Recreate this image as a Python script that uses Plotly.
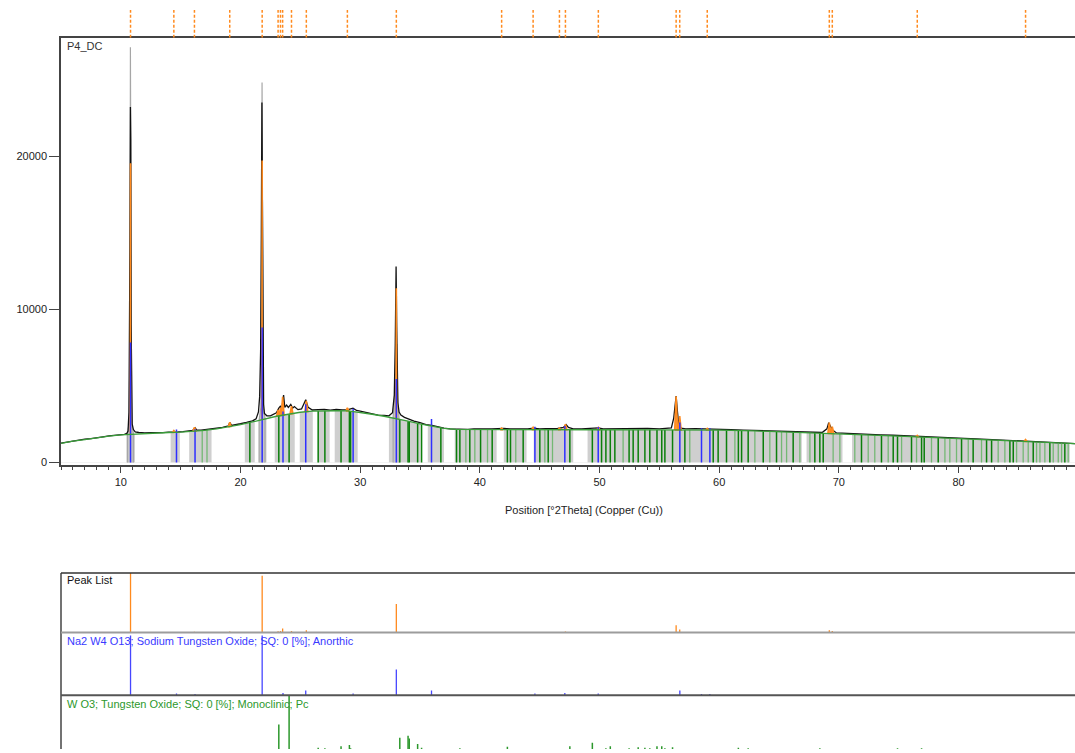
import numpy as np
import plotly.graph_objects as go

# ---------------- data ----------------
# fitted background (2Theta, counts)
bg_2theta = [5, 6, 7, 8, 9, 10, 12, 14, 15, 16, 17, 18, 19, 20, 21, 22, 23, 24, 25, 26, 27, 28,
             29, 30, 31, 32, 33, 34, 35, 36, 37, 38, 40, 45, 50, 55, 60, 63, 66, 70, 75, 80, 85, 89.73]
bg_counts = [1250, 1400, 1500, 1620, 1720, 1800, 1900, 1960, 1990, 2040, 2100, 2200, 2320, 2480,
             2650, 2850, 3020, 3150, 3280, 3360, 3380, 3380, 3370, 3280, 3150, 3020, 2880, 2700,
             2520, 2350, 2230, 2160, 2150, 2150, 2140, 2130, 2120, 2060, 1980, 1880, 1720, 1560,
             1400, 1230]

# measured scan P4_DC
meas_2theta = [5.0, 5.5, 6.0, 6.5, 7.0, 7.5, 8.0, 8.5, 9.0, 9.5, 10.0, 10.3, 10.5, 10.6, 10.68,
               10.72, 10.76, 10.80, 10.83, 10.86, 10.90, 10.95, 11.05, 11.2, 11.5, 12.0, 12.5,
               13.0, 13.5, 14.0, 14.4, 14.8, 15.2, 15.6, 16.0, 16.2, 16.35, 16.7, 17.0, 17.5,
               18.0, 18.5, 19.0, 19.1, 19.25, 19.6, 20.0, 20.5, 21.0, 21.3, 21.5, 21.6, 21.68,
               21.74, 21.79, 21.83, 21.88, 21.93, 22.0, 22.2, 22.5, 22.8, 23.0, 23.2, 23.35,
               23.45, 23.6, 23.7, 23.85, 24.0, 24.2, 24.35, 24.5, 24.8, 25.1, 25.45, 25.65, 26.0,
               26.5, 27.0, 27.5, 28.0, 28.5, 29.0, 29.4, 29.7, 30.0, 30.5, 31.0, 31.5, 32.0,
               32.4, 32.7, 32.85, 32.93, 33.0, 33.05, 33.1, 33.15, 33.25, 33.4, 33.7, 34.0, 34.5,
               35.0, 35.5, 36.0, 36.5, 37.0, 37.5, 38.0, 38.5, 39.0, 39.5, 40.0, 40.5, 41.0,
               41.5, 42.0, 42.5, 43.0, 43.5, 44.0, 44.5, 45.0, 45.5, 46.0, 46.5, 47.0, 47.2,
               47.4, 47.8, 48.5, 49.0, 49.5, 49.9, 50.3, 51.0, 52.0, 53.0, 54.0, 55.0, 55.5,
               56.0, 56.2, 56.3, 56.4, 56.5, 56.6, 56.8, 57.2, 58.0, 58.5, 59.0, 59.5, 60.0,
               61.0, 62.0, 63.0, 64.0, 65.0, 66.0, 67.0, 68.0, 68.6, 69.0, 69.15, 69.3, 69.5,
               69.8, 70.5, 71.5, 72.5, 73.5, 74.5, 75.5, 76.5, 77.5, 78.5, 79.5, 80.5, 81.5,
               82.5, 83.5, 84.5, 85.5, 86.5, 87.5, 88.5, 89.73]
meas_counts = [1260, 1330, 1420, 1480, 1530, 1560, 1640, 1680, 1740, 1770, 1820, 1840, 1900, 2050,
               3300, 6800, 14000, 23200, 21000, 9000, 4000, 2500, 2150, 2000, 1960, 1930, 1950,
               1930, 1950, 1980, 2010, 2000, 2020, 2050, 2100, 2270, 2120, 2110, 2140, 2170,
               2240, 2290, 2400, 2620, 2420, 2450, 2530, 2620, 2720, 2850, 3300, 4300, 7300,
               15000, 23500, 17000, 7000, 3800, 3200, 3050, 3050, 3150, 3250, 3550, 3700,
               3450, 4400, 3600, 3750, 3600, 3790, 3550, 3650, 3450, 3500, 4100, 3600, 3430,
               3440, 3470, 3420, 3460, 3430, 3450, 3550, 3400, 3360, 3260, 3190, 3100, 3080,
               3050, 3250, 4400, 7700, 12800, 9000, 5800, 3900, 3300, 3100, 2950, 2850, 2700,
               2600, 2480, 2420, 2330, 2250, 2200, 2180, 2190, 2170, 2200, 2180, 2200, 2190,
               2210, 2230, 2200, 2190, 2210, 2200, 2250, 2190, 2210, 2200, 2220, 2300, 2480,
               2290, 2200, 2190, 2210, 2200, 2260, 2200, 2210, 2190, 2210, 2230, 2200, 2220,
               2260, 2900, 3700, 4330, 3400, 2600, 2250, 2200, 2210, 2200, 2230, 2190, 2170,
               2150, 2120, 2090, 2060, 2030, 2000, 1980, 1950, 1960, 2200, 2600, 2350, 2100,
               1930, 1900, 1870, 1850, 1810, 1780, 1740, 1730, 1680, 1640, 1620, 1580, 1550,
               1510, 1470, 1440, 1420, 1390, 1340, 1300, 1240]

# calculated profile around the strong reflections (segments split by None)
calc_2theta = [10.55, 10.7, 10.77, 10.8, 10.83, 10.9, 11.05, None,
               21.55, 21.7, 21.77, 21.8, 21.83, 21.9, 22.05, None,
               32.75, 32.88, 32.95, 33.0, 33.06, 33.12, 33.25]
calc_counts = [1830, 2600, 9000, 27100, 9000, 2600, 1900, None,
               2720, 3600, 9000, 24800, 9000, 3600, 2900, None,
               2950, 4200, 7700, 7700, 7700, 4200, 2880]

# ranges without a shaded peak window (2Theta start, end)
gap_start = [5.0, 11.18, 14.93, 17.58, 21.19, 22.17, 24.53, 26.04, 27.45, 29.79, 35.05, 37.0,
             41.4, 43.9, 47.8, 66.9, 70.3, 89.3]
gap_end = [10.48, 14.16, 15.71, 20.36, 21.6, 22.86, 24.95, 26.45, 27.87, 32.4, 35.65, 37.9,
           42.0, 44.5, 49.0, 67.3, 71.1, 89.8]

# peak list: position and net height above background (counts)
peak_pos = [10.81, 14.43, 16.15, 19.10, 21.81, 23.14, 23.34, 23.52, 24.26, 25.50, 28.93, 33.02,
            41.82, 44.45, 46.65, 47.15, 49.90, 56.40, 56.70, 59.00, 69.20, 69.45, 76.55, 85.60]
peak_net = [17700, 120, 250, 300, 16900, 400, 500, 1200, 500, 700, 200, 8500,
            100, 150, 100, 350, 150, 2200, 900, 100, 700, 450, 100, 120]

# Na2 W4 O13 reference pattern (position, relative intensity %)
na2_pos = [10.81, 14.65, 16.2, 21.81, 23.55, 25.45, 29.41, 33.02, 35.96, 44.6, 47.1, 49.89,
           56.71, 58.52, 59.22]
na2_rel = [100, 3, 2, 100, 4, 8, 3, 43, 8, 3, 4, 3, 8, 2, 2]

# W O3 reference pattern (position, relative intensity %)
wo3_pos = [16.8, 17.2, 20.78, 23.2, 24.06, 26.49, 27.05, 28.4, 29.1, 29.2, 33.31, 34.0, 34.1,
           34.8, 35.13, 36.74, 38.05, 38.33, 38.83, 39.16, 39.58, 40.06, 40.64, 41.03, 42.3,
           42.56, 43.0, 43.62, 45.01, 45.43, 45.71, 46.07, 47.52, 49.4, 50.17, 50.53, 50.9,
           51.28, 51.97, 52.47, 52.81, 53.23, 53.79, 54.2, 54.8, 55.2, 55.46, 56.1, 57.13,
           57.54, 59.5, 59.91, 60.61, 61.31, 61.6, 61.87, 62.42, 62.98, 63.68, 64.23, 64.79,
           65.21, 65.63, 66.18, 66.74, 67.58, 67.99, 68.41, 68.69, 69.52, 70.08, 71.33, 71.89,
           72.45, 73.0, 73.56, 74.12, 74.54, 74.9, 75.24, 76.07, 76.49, 76.91, 77.13, 77.74,
           78.3, 78.86, 79.27, 79.83, 80.25, 80.81, 81.22, 81.92, 82.34, 82.76, 83.31, 83.87,
           84.29, 84.57, 84.85, 85.4, 85.82, 86.24, 86.52, 86.8, 87.21, 87.63, 87.91, 88.33,
           88.61, 88.88, 89.16]
wo3_rel = [2, 2, 3, 47, 100, 5, 4, 8, 10, 4, 23, 27, 22, 12, 5, 3, 3, 4, 2, 3, 2, 3, 2, 3, 7,
           3, 2, 3, 3, 2, 3, 2, 8, 14, 3, 4, 8, 3, 2, 4, 3, 6, 5, 4, 8, 8, 4, 6, 3, 2, 3, 3,
           3, 2, 5, 3, 4, 2, 3, 2, 3, 2, 2, 3, 2, 2, 3, 4, 3, 2, 2, 2, 3, 2, 2, 3, 2, 3, 4, 2,
           3, 2, 4, 3, 2, 3, 2, 2, 2, 3, 2, 3, 2, 3, 3, 2, 2, 3, 3, 2, 2, 2, 3, 2, 2, 2, 3, 2,
           2, 2, 3, 2]

# ---------------- styling ----------------
FONT = "Liberation Sans, Arial, sans-serif"
ORANGE = "#ff8a1e"
GRAY_BAND = "#cfcfcf"
X_RANGE = [5, 89.73]
H, W = 753, 1075
LEFT = 61

# pixel rows of the panel frames
ROW_TOP_STRIP = 10
ROW_MAIN_TOP = 38
ROW_MAIN_BOTTOM = 467
ROW_PL_TOP = 576
ROW_PL_BOTTOM = 636
ROW_NA_BOTTOM = 699


def py(px):
    """paper y coordinate for a pixel row"""
    return 1 - px / H


def bg_at(x):
    return np.interp(x, bg_2theta, bg_counts)


def sticks(pos, base, top):
    xs, ys = [], []
    for p, b, t in zip(pos, base, top):
        xs += [p, p, None]
        ys += [b, t, None]
    return xs, ys


fig = go.Figure()

# shaded peak windows under the background
fig.add_trace(go.Scatter(x=bg_2theta, y=bg_counts, mode="lines", fill="tozeroy",
                         fillcolor=GRAY_BAND, line=dict(width=0), hoverinfo="skip"))
gx, gy = [], []
for a, b in zip(gap_start, gap_end):
    gx += [a, a, b, b, a, None]
    gy += [0, 4200, 4200, 0, 0, None]
fig.add_trace(go.Scatter(x=gx, y=gy, mode="lines", fill="toself", fillcolor="white",
                         line=dict(width=0), hoverinfo="skip"))

# calculated profile
cx, cy, seg = [], [], []
for xv, yv in list(zip(calc_2theta, calc_counts)) + [(None, None)]:
    if xv is None:
        if seg:
            cx += [seg[0][0]] + [s[0] for s in seg] + [seg[-1][0], None]
            cy += [0] + [s[1] for s in seg] + [0, None]
        seg = []
    else:
        seg.append((xv, yv))
fig.add_trace(go.Scatter(x=cx, y=cy, mode="lines", fill="toself", fillcolor="#c4c4c4",
                         line=dict(color="#a6a6a6", width=1.2), hoverinfo="skip"))

# measured scan
fig.add_trace(go.Scatter(x=meas_2theta, y=meas_counts, mode="lines",
                         line=dict(color="#111111", width=1.3), hoverinfo="skip"))

# peak list profiles
ox, oy = [], []
for p, n in zip(peak_pos, peak_net):
    w = 0.015 if n > 5000 else 0.12
    ox += [p - w, p, p + w, p - w, None]
    oy += [bg_at(p - w), bg_at(p) + n, bg_at(p + w), bg_at(p - w), None]
fig.add_trace(go.Scatter(x=ox, y=oy, mode="lines", fill="toself", fillcolor="#ff9d3c",
                         line=dict(color=ORANGE, width=1.6), hoverinfo="skip"))

# W O3 sticks (to background)
weak = [i for i, r in enumerate(wo3_rel) if r < 3]
strong = [i for i, r in enumerate(wo3_rel) if r >= 3]
for idx, col, lw in [(weak, "#74b874", 1.3), (strong, "#0b7f0b", 1.5)]:
    ps = [wo3_pos[i] for i in idx]
    sx, sy = sticks(ps, [0] * len(ps), [bg_at(p) for p in ps])
    fig.add_trace(go.Scatter(x=sx, y=sy, mode="lines", line=dict(color=col, width=lw),
                             hoverinfo="skip"))

# Na2 W4 O13 sticks
sx, sy = sticks(na2_pos, [0] * len(na2_pos),
                [bg_at(p) + r * 60 for p, r in zip(na2_pos, na2_rel)])
fig.add_trace(go.Scatter(x=sx, y=sy, mode="lines", line=dict(color="#2f2fff", width=1.5),
                         hoverinfo="skip"))

# background curve
fig.add_trace(go.Scatter(x=bg_2theta, y=bg_counts, mode="lines",
                         line=dict(color="#3a9e3a", width=1.3), hoverinfo="skip"))

# peak markers above the scan
mx, my = sticks(peak_pos, [0] * len(peak_pos), [1] * len(peak_pos))
fig.add_trace(go.Scatter(x=mx, y=my, mode="lines", yaxis="y5",
                         line=dict(color=ORANGE, width=1.5, dash="3px,2px"), hoverinfo="skip"))

# lower panels: peak list, Na2 W4 O13, W O3
pmax = max(peak_net)
sx, sy = sticks(peak_pos, [0] * len(peak_pos), [n / pmax * 100 for n in peak_net])
fig.add_trace(go.Scatter(x=sx, y=sy, mode="lines", yaxis="y2",
                         line=dict(color=ORANGE, width=1.3), hoverinfo="skip"))
sx, sy = sticks(na2_pos, [0] * len(na2_pos), na2_rel)
fig.add_trace(go.Scatter(x=sx, y=sy, mode="lines", yaxis="y3",
                         line=dict(color="#4646ff", width=1.3), hoverinfo="skip"))
sx, sy = sticks(wo3_pos, [0] * len(wo3_pos), wo3_rel)
fig.add_trace(go.Scatter(x=sx, y=sy, mode="lines", yaxis="y4",
                         line=dict(color="#2c982c", width=1.5), hoverinfo="skip"))

axis_col = "#444444"
fig.update_layout(
    width=W, height=H, showlegend=False,
    margin=dict(l=LEFT, r=0, t=0, b=0, pad=0),
    paper_bgcolor="white", plot_bgcolor="white",
    font=dict(family=FONT, size=11, color="#222222"),
    xaxis=dict(domain=[0, 1], range=X_RANGE, anchor="y", showline=True, linecolor=axis_col,
               linewidth=1.5, mirror=True, ticks="outside", tickmode="linear", tick0=0,
               dtick=10, ticklen=7, tickcolor=axis_col, tickwidth=1.2,
               minor=dict(dtick=1, tick0=0, ticks="outside", ticklen=4, tickcolor=axis_col),
               showgrid=False, zeroline=False, tickfont=dict(size=11, color="#222222")),
    yaxis=dict(domain=[py(ROW_MAIN_BOTTOM), py(ROW_MAIN_TOP)], range=[-130, 27720], anchor="x",
               showline=True, linecolor=axis_col, linewidth=1.5, ticks="outside", ticklen=10,
               tickcolor=axis_col, tickvals=[0, 10000, 20000], tickformat="d",
               showgrid=False, zeroline=False, tickfont=dict(size=11, color="#222222")),
    yaxis2=dict(domain=[py(ROW_PL_BOTTOM), py(ROW_PL_TOP)], range=[0, 100], anchor="x",
                visible=False),
    yaxis3=dict(domain=[py(ROW_NA_BOTTOM), py(ROW_PL_BOTTOM)], range=[0, 105], anchor="x",
                visible=False),
    yaxis4=dict(domain=[0, py(ROW_NA_BOTTOM)], range=[2.8, 100], anchor="x", visible=False),
    yaxis5=dict(domain=[py(ROW_MAIN_TOP), py(ROW_TOP_STRIP)], range=[0, 1], anchor="x",
                visible=False),
)

# panel frames
line = lambda c, w: dict(color=c, width=w)
fig.add_shape(type="line", xref="paper", yref="paper", x0=0, x1=0, y0=0, y1=py(ROW_PL_TOP),
              line=line(axis_col, 1.5))
fig.add_shape(type="line", xref="paper", yref="paper", x0=0, x1=1, y0=py(ROW_PL_TOP),
              y1=py(ROW_PL_TOP), line=line("#333333", 1.5))
fig.add_shape(type="line", xref="paper", yref="paper", x0=0, x1=1, y0=py(ROW_PL_BOTTOM),
              y1=py(ROW_PL_BOTTOM), line=line("#9c9c9c", 2))
fig.add_shape(type="line", xref="paper", yref="paper", x0=0, x1=1, y0=py(ROW_NA_BOTTOM),
              y1=py(ROW_NA_BOTTOM), line=line("#555555", 2))


# texts
def px_x(px):
    return (px - LEFT) / (W - LEFT)


labels = [
    ("P4_DC", 65, 46, "#333333"),
    ("Peak List", 65, ROW_PL_TOP + 7, "#111111"),
    ("Na2 W4 O13; Sodium Tungsten Oxide; SQ: 0 [%]; Anorthic", 65, ROW_PL_BOTTOM + 8, "#3a3aff"),
    ("W O3; Tungsten Oxide; SQ: 0 [%]; Monoclinic; Pc", 65, ROW_NA_BOTTOM + 9, "#2c982c"),
]
for txt, x, y, col in labels:
    fig.add_annotation(text=txt, xref="paper", yref="paper", x=px_x(x), y=py(y),
                       xanchor="left", yanchor="middle", showarrow=False,
                       font=dict(family=FONT, size=11, color=col))
fig.add_annotation(text="Position [°2Theta] (Copper (Cu))", xref="paper", yref="paper",
                   x=px_x(584), y=py(513), xanchor="center", yanchor="middle",
                   showarrow=False, font=dict(family=FONT, size=11, color="#222222"))

fig.write_html("out.html", config={"displayModeBar": False})
